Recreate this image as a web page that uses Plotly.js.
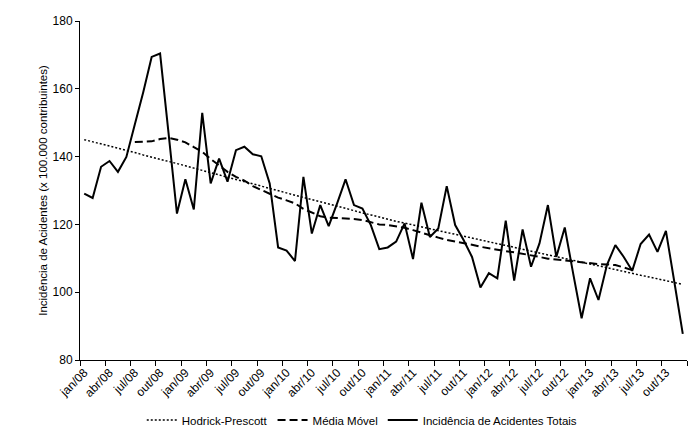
<!DOCTYPE html>
<html>
<head>
<meta charset="utf-8">
<script src="https://cdn.plot.ly/plotly-3.0.1.min.js"></script>
<style>
  body { margin: 0; background: #fff; }
  #chart { width: 695px; height: 433px; }
</style>
</head>
<body>
<div id="chart"></div>
<script>
// months jan/08 .. dez/13, one value per month
var months = [];
var years = ['08', '09', '10', '11', '12', '13'];
var monthNames = ['jan', 'fev', 'mar', 'abr', 'mai', 'jun', 'jul', 'ago', 'set', 'out', 'nov', 'dez'];
years.forEach(function (y) {
  monthNames.forEach(function (m) { months.push(m + '/' + y); });
});

// Incidência de Acidentes Totais
var totais = [
  129.1, 127.8, 137.0, 138.7, 135.5, 139.9, 149.5, 159.0, 169.4, 170.4, 147.0, 123.2,
  133.3, 124.4, 152.9, 132.1, 139.4, 132.6, 141.9, 142.9, 140.7, 140.1, 132.1, 113.2,
  112.3, 109.2, 134.0, 117.3, 125.7, 119.5, 126.2, 133.3, 125.7, 124.7, 119.8, 112.7,
  113.2, 114.9, 120.3, 109.8, 126.4, 116.3, 118.8, 131.3, 119.8, 115.4, 110.4, 101.4,
  105.6, 104.1, 121.1, 103.4, 118.5, 107.5, 114.4, 125.7, 110.4, 119.1, 105.5, 92.3,
  104.1, 97.7, 108.0, 113.9, 110.4, 106.3, 114.2, 117.0, 111.9, 118.1, 103.0, 87.7
];

// Média Móvel (first and last six months are empty)
var mediaMovel = [
  null, null, null, null, null, null, 144.3, 144.4, 144.5, 145.2, 145.5, 145.0,
  144.2, 142.8, 141.4, 139.3, 137.4, 135.5, 134.0, 132.9, 131.3, 130.2, 128.9, 127.9,
  127.1, 126.2, 124.6, 123.5, 122.4, 122.0, 121.9, 121.8, 121.6, 121.3, 120.7, 120.0,
  119.8, 119.4, 119.0, 118.3, 117.5, 116.9, 116.1, 115.4, 115.0, 114.6, 114.0, 113.4,
  112.9, 112.4, 112.1, 111.8, 111.4, 110.9, 110.4, 109.9, 109.6, 109.3, 109.0, 108.8,
  108.5, 108.3, 108.2, 108.0, 107.3, 106.5, null, null, null, null, null, null
];

// Hodrick-Prescott trend
var hodrick = [
  145.0, 144.4, 143.7, 143.1, 142.4, 141.8, 141.2, 140.5, 139.9, 139.2, 138.6, 137.9,
  137.3, 136.6, 136.0, 135.3, 134.6, 133.9, 133.3, 132.6, 131.9, 131.3, 130.6, 129.9,
  129.3, 128.6, 128.0, 127.3, 126.7, 126.0, 125.4, 124.7, 124.1, 123.4, 122.8, 122.1,
  121.5, 120.9, 120.4, 119.8, 119.3, 118.7, 118.2, 117.6, 117.1, 116.5, 116.0, 115.4,
  114.9, 114.3, 113.8, 113.2, 112.7, 112.1, 111.6, 111.0, 110.5, 109.9, 109.4, 108.8,
  108.3, 107.8, 107.2, 106.7, 106.1, 105.6, 105.0, 104.5, 103.9, 103.4, 102.8, 102.3
];

var idx = months.map(function (m, i) { return i; });
// label every third month (jan, abr, jul, out)
var tickIdx = idx.filter(function (i) { return i % 3 === 0; });
var tickText = tickIdx.map(function (i) { return months[i]; });

var traces = [
  {
    x: idx, y: hodrick, name: 'Hodrick-Prescott', type: 'scatter', mode: 'lines',
    line: { color: '#000', width: 1.5, dash: '2px,2px' }
  },
  {
    x: idx, y: mediaMovel, name: 'Média Móvel', type: 'scatter', mode: 'lines',
    line: { color: '#000', width: 2, dash: '8px,4px' }
  },
  {
    x: idx, y: totais, name: 'Incidência de Acidentes Totais', type: 'scatter', mode: 'lines',
    line: { color: '#000', width: 2 }
  }
];

var layout = {
  width: 695,
  height: 433,
  margin: { l: 80, r: 8, t: 21, b: 73 },
  paper_bgcolor: '#fff',
  plot_bgcolor: '#fff',
  font: { family: 'Liberation Sans, Arial, sans-serif', color: '#000', size: 11 },
  showlegend: true,
  legend: {
    orientation: 'h', x: 0.465, xanchor: 'center',
    yref: 'container', y: 0.03, yanchor: 'middle',
    font: { size: 11.5 }, itemwidth: 30, traceorder: 'normal'
  },
  xaxis: {
    range: [-0.5, 71.5],
    tickmode: 'array', tickvals: tickIdx, ticktext: tickText,
    tickangle: -45, ticks: '', showline: true, linecolor: '#000', linewidth: 1,
    showgrid: false, zeroline: false, automargin: false,
    tickfont: { size: 12 },
    minor: { tick0: -0.5, dtick: 3, ticks: 'outside', ticklen: 5, tickcolor: '#000', tickwidth: 1, showgrid: false }
  },
  yaxis: {
    range: [80, 180], dtick: 20, tick0: 80,
    ticks: 'outside', ticklen: 4, tickcolor: '#000',
    showline: true, linecolor: '#000', linewidth: 1,
    showgrid: false, zeroline: false, automargin: false,
    tickfont: { size: 12 },
    title: { text: 'Incidência de Acidentes (x 100.000 contribuintes)', font: { size: 11.5 } }
  }
};

Plotly.newPlot('chart', traces, layout, { displayModeBar: false, staticPlot: true });
</script>
</body>
</html>
